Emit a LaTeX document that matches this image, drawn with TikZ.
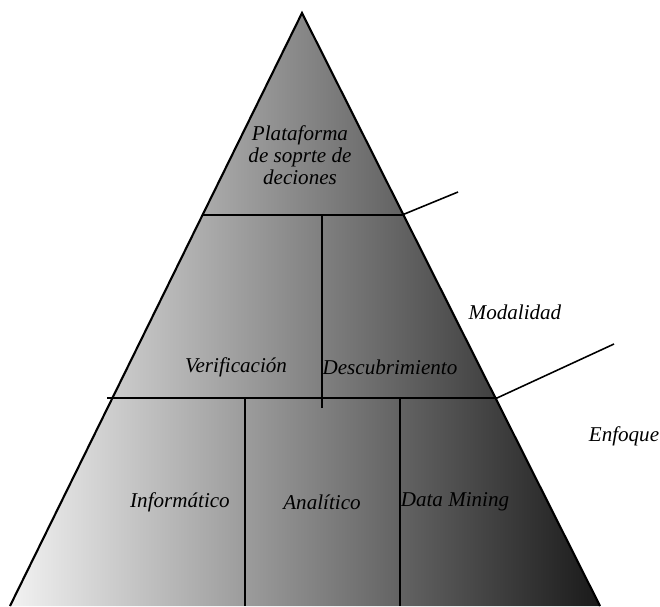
\documentclass[tikz,border=0pt]{standalone}
\usepackage{fontspec}
\setmainfont{Liberation Serif}
\usepackage{xcolor}
\usepackage{tikz}
\tikzset{
  capa/.style={line width=0.9pt,black},
  rotulo/.style={font=\fontsize{12}{12.5}\selectfont\itshape,align=center,inner sep=0pt},
}
\begin{document}
\begin{tikzpicture}[x=0.02cm,y=-0.02cm]
\useasboundingbox (0,0) rectangle (660,606);
\shade[left color=black!5,right color=black!90] (10,606) -- (302,13) -- (600,606) -- cycle;
\draw[line width=1.2pt] (10,606) -- (302,13) -- (600,606);
\draw[capa] (203,215) -- (402,215) -- (458,192);
\draw[capa] (107,398) -- (497,398) -- (614,344);
\draw[capa] (322,215) -- (322,408);
\draw[capa] (245,398) -- (245,606);
\draw[capa] (400,398) -- (400,606);
\draw(300,155) node[rotulo] (plataforma) {Plataforma\\de soprte de\\deciones};
\draw(236,367) node[rotulo] (verificacion) {Verificación};
\draw(390,367) node[rotulo] (descubrimiento) {Descubrimiento};
\draw(180,502) node[rotulo] (informatico) {Informático};
\draw(322,502) node[rotulo] (analitico) {Analítico};
\draw(455,502) node[rotulo] (datamining) {Data Mining};
\draw(515,312) node[rotulo] (modalidad) {Modalidad};
\draw(624,436) node[rotulo] (enfoque) {Enfoque};
\end{tikzpicture}
\end{document}
